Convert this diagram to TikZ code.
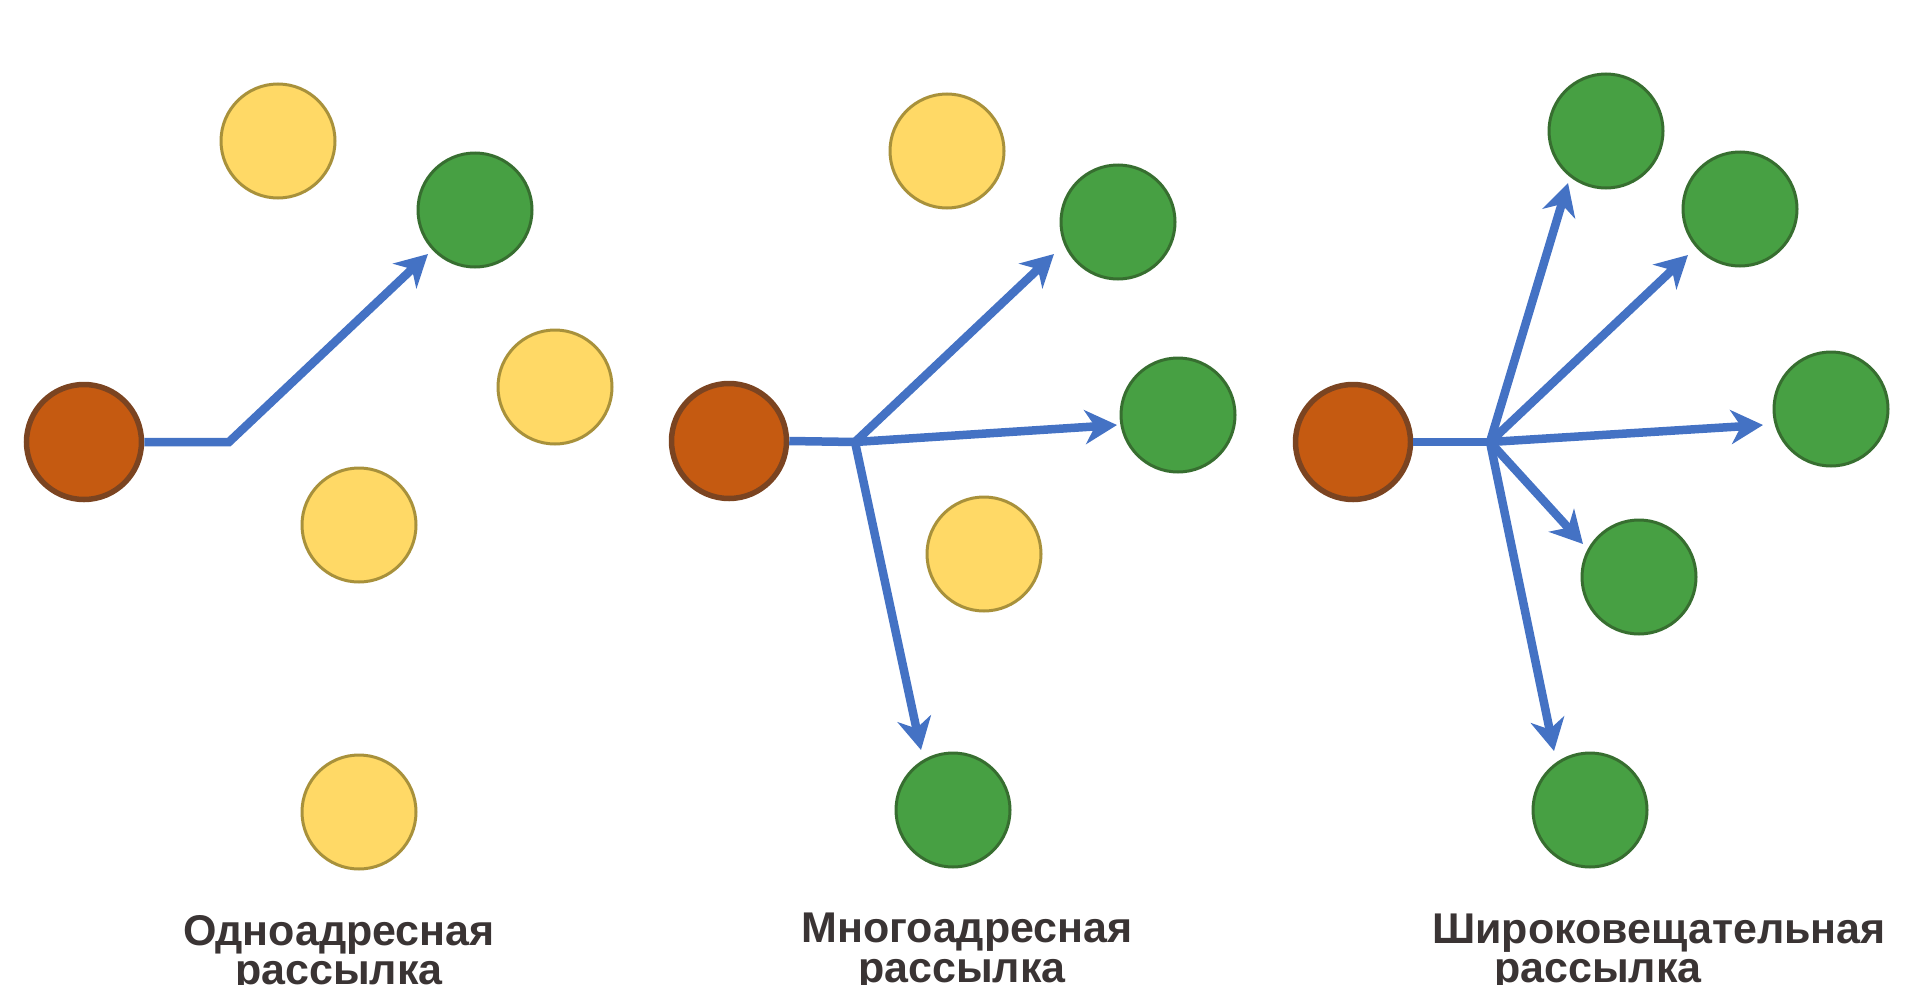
\documentclass[tikz,border=0pt]{standalone}
\usepackage{fontspec}
\setmainfont{Liberation Sans}
\usetikzlibrary{arrows.meta}
\definecolor{orfill}{HTML}{C55A11}
\definecolor{ordraw}{HTML}{7B4421}
\definecolor{yefill}{HTML}{FFD966}
\definecolor{yedraw}{HTML}{A8913B}
\definecolor{grfill}{HTML}{47A043}
\definecolor{grdraw}{HTML}{376E30}
\definecolor{link}{HTML}{4472C4}
\definecolor{txt}{HTML}{3A3434}
\tikzset{
  srcnode/.style={circle, fill=orfill, draw=ordraw, line width=5.5pt, minimum size=115pt, inner sep=0pt},
  idlenode/.style={circle, fill=yefill, draw=yedraw, line width=3pt, minimum size=114pt, inner sep=0pt},
  dstnode/.style={circle, fill=grfill, draw=grdraw, line width=3pt, minimum size=114pt, inner sep=0pt},
  wire/.style={draw=link, line width=8.5pt, line join=miter},
  sendto/.style={wire, -{Stealth[length=32pt, width=34pt, inset=10pt]}},
  caption/.style={anchor=base, text=txt, font=\fontsize{43}{48}\selectfont\bfseries, inner sep=0pt}
}
\begin{document}
\begin{tikzpicture}[x=1pt, y=-1pt]
\useasboundingbox (0,0) rectangle (1920,985);

% ---------- Panel 1: unicast ----------
\node[srcnode] (o1) at (84,442) {};
\node[idlenode] (y1a) at (278,141) {};
\node[idlenode] (y1b) at (555,387) {};
\node[idlenode] (y1c) at (359,525) {};
\node[idlenode] (y1d) at (359,812) {};
\node[dstnode] (g1) at (475,210) {};
\coordinate (b1) at (229,442);
\coordinate (t1) at (428,254);
\draw[sendto] (o1.east) -- (b1) -- (t1);
\node[caption] (c1a) at (339,945) {Одноадресная};
\node[caption] (c1b) at (339,984) {рассылка};

% ---------- Panel 2: multicast ----------
\node[srcnode] (o2) at (729,441) {};
\node[idlenode] (y2a) at (947,151) {};
\node[idlenode] (y2b) at (984,554) {};
\node[dstnode] (g2a) at (1118,222) {};
\node[dstnode] (g2b) at (1178,415) {};
\node[dstnode] (g2c) at (953,810) {};
\coordinate (j2) at (855,442);
\coordinate (t2a) at (1054,254);
\coordinate (t2b) at (1117,425);
\coordinate (t2c) at (921,750);
\draw[wire] (o2.east) -- (j2);
\draw[sendto] (j2) -- (t2a);
\draw[sendto] (j2) -- (t2b);
\draw[sendto] (j2) -- (t2c);
\node[caption] (c2a) at (967,942) {Многоадресная};
\node[caption] (c2b) at (962,982) {рассылка};

% ---------- Panel 3: broadcast ----------
\node[srcnode] (o3) at (1353,442) {};
\node[dstnode] (g3a) at (1606,131) {};
\node[dstnode] (g3b) at (1740,209) {};
\node[dstnode] (g3c) at (1831,409) {};
\node[dstnode] (g3d) at (1639,577) {};
\node[dstnode] (g3e) at (1590,810) {};
\coordinate (j3) at (1490,442);
\coordinate (t3a) at (1568,183);
\coordinate (t3b) at (1688,255);
\coordinate (t3c) at (1763,425);
\coordinate (t3d) at (1583,544);
\coordinate (t3e) at (1554,751);
\draw[wire] (o3.east) -- (j3);
\draw[sendto] (j3) -- (t3a);
\draw[sendto] (j3) -- (t3b);
\draw[sendto] (j3) -- (t3c);
\draw[sendto] (j3) -- (t3d);
\draw[sendto] (j3) -- (t3e);
\node[caption] (c3a) at (1659,943) {Широковещательная};
\node[caption] (c3b) at (1598,982) {рассылка};
\end{tikzpicture}
\end{document}
